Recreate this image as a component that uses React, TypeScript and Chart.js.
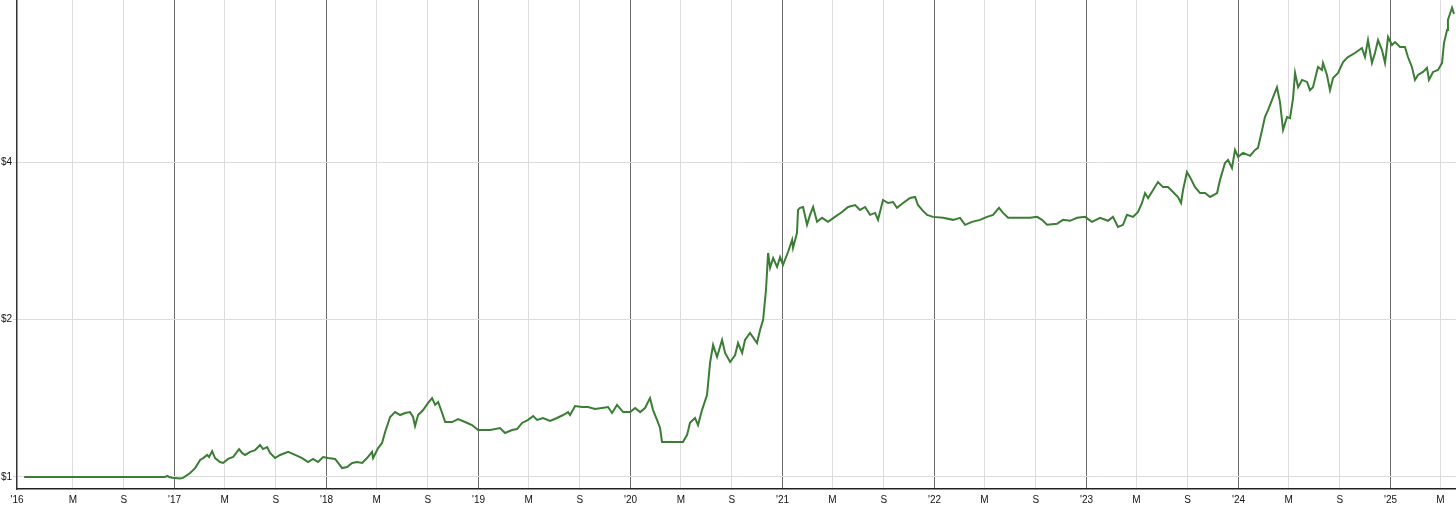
import { useEffect, useRef } from 'react';
import { Chart, registerables } from 'chart.js';

Chart.register(...registerables);

// Time positions as decimal years
const years: number[] = [
  2016.010, 2016.937, 2016.950, 2016.965, 2016.984, 2017.036, 2017.056, 2017.102, 2017.135, 2017.168,
  2017.188, 2017.214, 2017.227, 2017.247, 2017.266, 2017.299, 2017.319, 2017.352, 2017.385, 2017.424,
  2017.444, 2017.464, 2017.497, 2017.530, 2017.562, 2017.582, 2017.609, 2017.628, 2017.661, 2017.694,
  2017.747, 2017.793, 2017.839, 2017.878, 2017.911, 2017.944, 2017.977, 2018.010, 2018.056, 2018.076,
  2018.102, 2018.135, 2018.168, 2018.201, 2018.234, 2018.266, 2018.299, 2018.306, 2018.339, 2018.365,
  2018.385, 2018.418, 2018.451, 2018.484, 2018.516, 2018.549, 2018.569, 2018.582, 2018.602, 2018.635,
  2018.668, 2018.694, 2018.714, 2018.734, 2018.760, 2018.780, 2018.826, 2018.865, 2018.911, 2018.957,
  2018.997, 2019.076, 2019.141, 2019.174, 2019.220, 2019.253, 2019.286, 2019.326, 2019.359, 2019.385,
  2019.424, 2019.470, 2019.516, 2019.556, 2019.589, 2019.602, 2019.635, 2019.681, 2019.720, 2019.766,
  2019.812, 2019.852, 2019.878, 2019.911, 2019.951, 2019.997, 2020.030, 2020.063, 2020.095, 2020.128,
  2020.148, 2020.174, 2020.194, 2020.207, 2020.260, 2020.345, 2020.372, 2020.391, 2020.424, 2020.444,
  2020.470, 2020.503, 2020.523, 2020.543, 2020.569, 2020.602, 2020.622, 2020.655, 2020.688, 2020.707,
  2020.734, 2020.753, 2020.786, 2020.832, 2020.852, 2020.872, 2020.891, 2020.905, 2020.918, 2020.938,
  2020.964, 2020.984, 2021.003, 2021.036, 2021.063, 2021.069, 2021.095, 2021.102, 2021.115, 2021.135,
  2021.161, 2021.181, 2021.201, 2021.227, 2021.260, 2021.299, 2021.345, 2021.391, 2021.431, 2021.477,
  2021.510, 2021.543, 2021.576, 2021.609, 2021.628, 2021.661, 2021.694, 2021.727, 2021.753, 2021.793,
  2021.839, 2021.872, 2021.891, 2021.918, 2021.951, 2021.990, 2022.056, 2022.122, 2022.168, 2022.201,
  2022.247, 2022.299, 2022.345, 2022.385, 2022.424, 2022.451, 2022.484, 2022.563, 2022.628, 2022.674,
  2022.707, 2022.740, 2022.806, 2022.845, 2022.891, 2022.938, 2022.990, 2023.036, 2023.089, 2023.141,
  2023.174, 2023.207, 2023.240, 2023.266, 2023.306, 2023.339, 2023.365, 2023.385, 2023.405, 2023.438,
  2023.470, 2023.503, 2023.536, 2023.569, 2023.602, 2023.622, 2023.635, 2023.661, 2023.681, 2023.714,
  2023.747, 2023.780, 2023.813, 2023.859, 2023.878, 2023.911, 2023.931, 2023.957, 2023.977, 2023.997,
  2024.030, 2024.076, 2024.109, 2024.128, 2024.155, 2024.174, 2024.194, 2024.220, 2024.253, 2024.273,
  2024.293, 2024.319, 2024.339, 2024.359, 2024.372, 2024.392, 2024.418, 2024.451, 2024.470, 2024.490,
  2024.523, 2024.549, 2024.556, 2024.582, 2024.602, 2024.622, 2024.655, 2024.688, 2024.720, 2024.766,
  2024.812, 2024.832, 2024.852, 2024.878, 2024.898, 2024.918, 2024.944, 2024.964, 2024.984, 2025.010,
  2025.030, 2025.063, 2025.095, 2025.115, 2025.141, 2025.161, 2025.181, 2025.214, 2025.240, 2025.253,
  2025.280, 2025.313, 2025.339, 2025.352, 2025.372, 2025.378, 2025.405, 2025.418,
];

// Value of $1 invested
const values: number[] = [
  1.000, 1.000, 1.005, 1.000, 0.997, 0.993, 0.996, 1.018, 1.040, 1.078,
  1.087, 1.102, 1.092, 1.121, 1.087, 1.068, 1.064, 1.083, 1.092, 1.131,
  1.112, 1.102, 1.117, 1.126, 1.151, 1.131, 1.141, 1.112, 1.087, 1.102,
  1.117, 1.102, 1.087, 1.068, 1.083, 1.068, 1.092, 1.087, 1.083, 1.064,
  1.040, 1.045, 1.064, 1.068, 1.064, 1.087, 1.117, 1.087, 1.136, 1.162,
  1.219, 1.303, 1.331, 1.314, 1.326, 1.331, 1.303, 1.252, 1.314, 1.343,
  1.386, 1.416, 1.374, 1.392, 1.326, 1.274, 1.274, 1.291, 1.274, 1.257,
  1.230, 1.230, 1.241, 1.214, 1.230, 1.235, 1.269, 1.286, 1.308, 1.286,
  1.297, 1.280, 1.297, 1.314, 1.331, 1.314, 1.367, 1.361, 1.361, 1.349,
  1.355, 1.361, 1.326, 1.374, 1.331, 1.331, 1.355, 1.331, 1.355, 1.416,
  1.343, 1.286, 1.241, 1.167, 1.167, 1.167, 1.204, 1.270, 1.297, 1.257,
  1.343, 1.435, 1.653, 1.789, 1.697, 1.829, 1.727, 1.660, 1.712, 1.805,
  1.727, 1.829, 1.887, 1.805, 1.911, 1.998, 2.279, 2.683, 2.513, 2.624,
  2.524, 2.636, 2.546, 2.695, 2.844, 2.744, 2.932, 3.244, 3.273, 3.286,
  3.038, 3.174, 3.286, 3.078, 3.133, 3.078, 3.146, 3.215, 3.286, 3.315,
  3.244, 3.286, 3.174, 3.201, 3.105, 3.389, 3.344, 3.359, 3.273, 3.344,
  3.419, 3.434, 3.315, 3.244, 3.174, 3.146, 3.133, 3.105, 3.133, 3.038,
  3.078, 3.105, 3.146, 3.174, 3.273, 3.201, 3.133, 3.133, 3.133, 3.146,
  3.105, 3.038, 3.051, 3.105, 3.092, 3.133, 3.146, 3.078, 3.133, 3.092,
  3.146, 3.009, 3.038, 3.174, 3.146, 3.215, 3.344, 3.494, 3.419, 3.541,
  3.667, 3.587, 3.587, 3.510, 3.434, 3.344, 3.541, 3.833, 3.748, 3.587,
  3.494, 3.494, 3.434, 3.494, 3.699, 3.988, 4.041, 3.901, 4.226, 4.098,
  4.171, 4.116, 4.226, 4.264, 4.615, 4.883, 5.035, 5.263, 5.571, 5.217,
  4.615, 4.883, 4.861, 5.310, 5.932, 5.571, 5.752, 5.701, 5.498, 5.571,
  6.090, 6.010, 6.198, 5.879, 5.498, 5.802, 5.932, 6.225, 6.363, 6.476,
  6.620, 6.363, 6.857, 6.198, 6.476, 6.857, 6.562, 6.198, 6.948, 6.708,
  6.797, 6.649, 6.649, 6.363, 6.090, 5.752, 5.879, 5.958, 6.064, 5.752,
  5.958, 6.010, 6.198, 6.767, 7.165, 7.494, 7.906, 7.696,
];

// Axis labels
const yearLabels: string[] = ["'16", "'17", "'18", "'19", "'20", "'21", "'22", "'23", "'24", "'25"];
const firstYear = 2016;
const monthTickMonths: number[] = [5, 9];
const monthTickLabels: string[] = ['M', 'S'];
const yTickValues: number[] = [1, 2, 4];

const X_MIN = 2015.963;
const X_MAX = 2025.431;
const Y_MIN = 0.9485;
const Y_MAX = 8.18;

const LINE_COLOR = '#3b7d34';

function decimalYear(y: number, m: number, d: number): number {
  const start = Date.UTC(y, 0, 1);
  const end = Date.UTC(y + 1, 0, 1);
  return y + (Date.UTC(y, m - 1, d) - start) / (end - start);
}

type XTick = { value: number; kind: string; text: string };

function buildXTicks(): XTick[] {
  const out: XTick[] = [];
  yearLabels.forEach((lbl, i) => {
    const yr = firstYear + i;
    if (i === 0) out.push({ value: X_MIN, kind: 'edge', text: lbl });
    else out.push({ value: yr, kind: 'year', text: lbl });
    monthTickMonths.forEach((m, j) => {
      const v = decimalYear(yr, m, 1);
      if (v <= X_MAX) out.push({ value: v, kind: 'month', text: monthTickLabels[j] });
    });
  });
  return out.sort((a, b) => a.value - b.value);
}

export default function App() {
  const ref = useRef<HTMLCanvasElement>(null);

  useEffect(() => {
    if (!ref.current) return;
    const xTicks = buildXTicks();
    const font = { family: "'Liberation Sans', Arial, sans-serif", size: 10 };
    const chart = new Chart(ref.current, {
      type: 'line',
      data: {
        datasets: [
          {
            data: years.map((t, i) => ({ x: t, y: values[i] })),
            borderColor: LINE_COLOR,
            borderWidth: 2,
            pointRadius: 0,
            tension: 0,
            fill: false,
          },
        ],
      },
      options: {
        responsive: false,
        animation: false,
        layout: { padding: 0 },
        plugins: { legend: { display: false }, tooltip: { enabled: false } },
        scales: {
          x: {
            type: 'linear',
            min: X_MIN,
            max: X_MAX,
            bounds: 'data',
            afterBuildTicks: (s: any) => {
              s.ticks = xTicks.map((t) => ({ value: t.value, kind: t.kind, text: t.text }));
            },
            afterFit: (s: any) => {
              s.height = 24;
              s.paddingLeft = 0;
              s.paddingRight = 0;
              s.paddingTop = 0;
              s.paddingBottom = 0;
            },
            ticks: {
              autoSkip: false,
              maxRotation: 0,
              minRotation: 0,
              padding: 5,
              color: '#111',
              font,
              callback: (_v: any, i: number, ticks: any[]) => ticks[i].text,
            },
            grid: {
              drawTicks: false,
              lineWidth: 1,
              color: (ctx: any) => {
                const k = ctx.tick && ctx.tick.kind;
                if (k === 'year') return '#6a6a6a';
                if (k === 'month') return '#dcdcdc';
                return 'rgba(0,0,0,0)';
              },
            },
            border: { display: true, color: '#222', width: 1.5 },
          },
          y: {
            type: 'logarithmic',
            min: Y_MIN,
            max: Y_MAX,
            bounds: 'data',
            afterBuildTicks: (s: any) => {
              s.ticks = yTickValues.map((v) => ({ value: v }));
            },
            afterFit: (s: any) => {
              s.width = 17;
              s.paddingTop = 0;
              s.paddingBottom = 0;
              s.paddingLeft = 0;
              s.paddingRight = 0;
            },
            ticks: {
              padding: 1,
              color: '#111',
              font,
              callback: (v: any) => '$' + v,
            },
            grid: {
              drawTicks: true,
              tickLength: 4,
              color: '#dcdcdc',
              lineWidth: 1,
            },
            border: { display: true, color: '#333', width: 1.5 },
          },
        },
      },
    } as any);
    return () => chart.destroy();
  }, []);

  return (
    <div style={{ position: 'absolute', left: 0, top: 0, width: 1456, height: 513, background: '#fff' }}>
      <canvas ref={ref} width={1456} height={513} style={{ display: 'block' }} />
    </div>
  );
}
